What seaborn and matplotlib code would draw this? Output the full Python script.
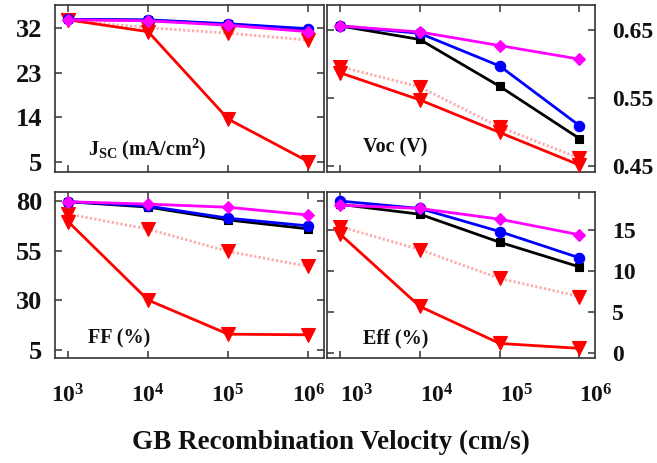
import matplotlib
matplotlib.use("Agg")
import matplotlib.pyplot as plt
import seaborn as sns
from matplotlib.ticker import FixedLocator, FixedFormatter, NullFormatter, NullLocator, FormatStrFormatter

# ---------------- data ----------------
velocity = [1e3, 1e4, 1e5, 1e6]           # GB recombination velocity (cm/s)
velocity_labels = [r"$10^{3}$", r"$10^{4}$", r"$10^{5}$", r"$10^{6}$"]

# Jsc (mA/cm2)
jsc_magenta = [33.7, 33.5, 32.6, 31.3]
jsc_blue = [33.8, 33.7, 32.9, 31.9]
jsc_black = [33.8, 33.6, 32.8, 31.7]
jsc_red_dotted = [33.6, 32.1, 31.0, 29.6]
jsc_red = [33.7, 31.3, 13.6, 5.0]

# Voc (V)
voc_magenta = [0.656, 0.647, 0.627, 0.607]
voc_blue = [0.656, 0.645, 0.597, 0.509]
voc_black = [0.656, 0.636, 0.567, 0.490]
voc_red_dotted = [0.596, 0.566, 0.507, 0.461]
voc_red = [0.587, 0.547, 0.499, 0.451]

# FF (%)
ff_magenta = [79.8, 78.6, 77.0, 73.1]
ff_blue = [79.8, 77.6, 71.5, 67.6]
ff_black = [79.8, 77.1, 70.6, 66.1]
ff_red_dotted = [73.6, 66.0, 54.7, 47.2]
ff_red = [69.8, 30.2, 13.0, 12.7]

# Eff (%)
eff_magenta = [18.0, 17.6, 16.3, 14.4]
eff_blue = [18.5, 17.6, 14.8, 11.6]
eff_black = [18.1, 16.9, 13.5, 10.5]
eff_red_dotted = [15.4, 12.6, 9.1, 6.9]
eff_red = [14.5, 5.7, 1.2, 0.6]

jsc_ticks = [5, 14, 23, 32]
voc_ticks = [0.45, 0.55, 0.65]
ff_ticks = [5, 30, 55, 80]
eff_ticks = [0, 5, 10, 15]

# ---------------- style ----------------
sns.set_theme(style="ticks")
plt.rcParams["font.family"] = ["Liberation Serif", "DejaVu Serif"]
plt.rcParams["font.weight"] = "bold"
plt.rcParams["mathtext.fontset"] = "custom"
plt.rcParams["mathtext.rm"] = "Liberation Serif:bold"
plt.rcParams["mathtext.bf"] = "Liberation Serif:bold"
plt.rcParams["mathtext.it"] = "Liberation Serif:bold"
plt.rcParams["mathtext.default"] = "bf"

W, H = 657, 463
fig = plt.figure(figsize=(W / 100, H / 100), dpi=100)
fig.patch.set_facecolor("white")


def px_axes(x0, y0, x1, y1):
    return fig.add_axes([x0 / W, 1 - y1 / H, (x1 - x0) / W, (y1 - y0) / H])


ax_jsc = px_axes(55, 5, 324, 172)
ax_voc = px_axes(327, 5, 595, 172)
ax_ff = px_axes(55, 192, 324, 358)
ax_eff = px_axes(327, 192, 595, 358)

# series styles: (color, marker, markersize, linestyle)
styles = {
    "red_dotted": ("#ffaaaa", "v", 9.5, (0, (0.8, 0.8))),
    "red": ("#ff0000", "v", 9.5, "-"),
    "black": ("#000000", "s", 5.5, "-"),
    "blue": ("#0000ff", "o", 7.5, "-"),
    "magenta": ("#ff00ff", "D", 6.5, "-"),
}
order = ["red_dotted", "red", "black", "blue", "magenta"]

panels = [
    (ax_jsc, {"magenta": jsc_magenta, "blue": jsc_blue, "black": jsc_black,
              "red_dotted": jsc_red_dotted, "red": jsc_red},
     jsc_ticks, (2.9, 36.7), "%d", "left", False,
     r"J$_{\mathregular{SC}}$ (mA/cm$^{2}$)", (0.123, 0.135)),
    (ax_voc, {"magenta": voc_magenta, "blue": voc_blue, "black": voc_black,
              "red_dotted": voc_red_dotted, "red": voc_red},
     voc_ticks, (0.4407, 0.6868), "%.2f", "right", False, "Voc (V)", (0.134, 0.145)),
    (ax_ff, {"magenta": ff_magenta, "blue": ff_blue, "black": ff_black,
             "red_dotted": ff_red_dotted, "red": ff_red},
     ff_ticks, (1.0, 84.7), "%d", "left", True, "FF (%)", (0.123, 0.12)),
    (ax_eff, {"magenta": eff_magenta, "blue": eff_blue, "black": eff_black,
              "red_dotted": eff_red_dotted, "red": eff_red},
     eff_ticks, (-0.57, 19.6), "%d", "right", True, "Eff (%)", (0.134, 0.12)),
]

for ax, data, yticks, ylim, fmt, side, show_x, label, lpos in panels:
    for key in order:
        color, marker, ms, ls = styles[key]
        mcol = "#ff0000" if key == "red_dotted" else color
        sns.lineplot(x=velocity, y=data[key], ax=ax, color=color, marker=marker,
                     markersize=ms, linewidth=2.0,
                     linestyle=ls, markerfacecolor=mcol, markeredgecolor=mcol,
                     markeredgewidth=0.8, legend=False, clip_on=False, zorder=3)
    ax.set_xscale("log")
    ax.set_xlim(10 ** 2.8375, 10 ** 6.195)
    ax.xaxis.set_major_locator(FixedLocator(velocity))
    ax.xaxis.set_minor_locator(NullLocator())
    if show_x:
        ax.xaxis.set_major_formatter(FixedFormatter(velocity_labels))
    else:
        ax.xaxis.set_major_formatter(NullFormatter())
    ax.set_ylim(*ylim)
    ax.yaxis.set_major_locator(FixedLocator(yticks))
    ax.yaxis.set_major_formatter(FormatStrFormatter(fmt))
    ax.tick_params(axis="both", which="both", direction="in", length=5, width=1.1,
                   color="#333333", top=True, bottom=True, left=True, right=True)
    ax.tick_params(axis="x", pad=19, labelsize=17, labelcolor="#111111")
    if side == "left":
        ax.tick_params(axis="y", labelleft=True, labelright=False, pad=9, labelsize=19,
                       labelcolor="#111111")
    else:
        ax.tick_params(axis="y", labelleft=False, labelright=True, pad=12, labelsize=17,
                       labelcolor="#111111")
        if show_x:
            plt.setp(ax.get_xticklabels(), ha="left")
    for lab in ax.get_yticklabels():
        lab.set_fontweight("bold")
    for s in ax.spines.values():
        s.set_color("#333333")
        s.set_linewidth(1.2)
    ax.set_xlabel("")
    ax.set_ylabel("")
    ax.text(lpos[0], lpos[1], label, transform=ax.transAxes, ha="left", va="center",
            fontsize=14.5, fontweight="bold", color="#111111")

fig.text(331 / W, 1 - 442 / H, "GB Recombination Velocity (cm/s)", ha="center",
         va="center", fontsize=19.5, fontweight="bold", color="#111111")

fig.savefig("out.png", dpi=100)
